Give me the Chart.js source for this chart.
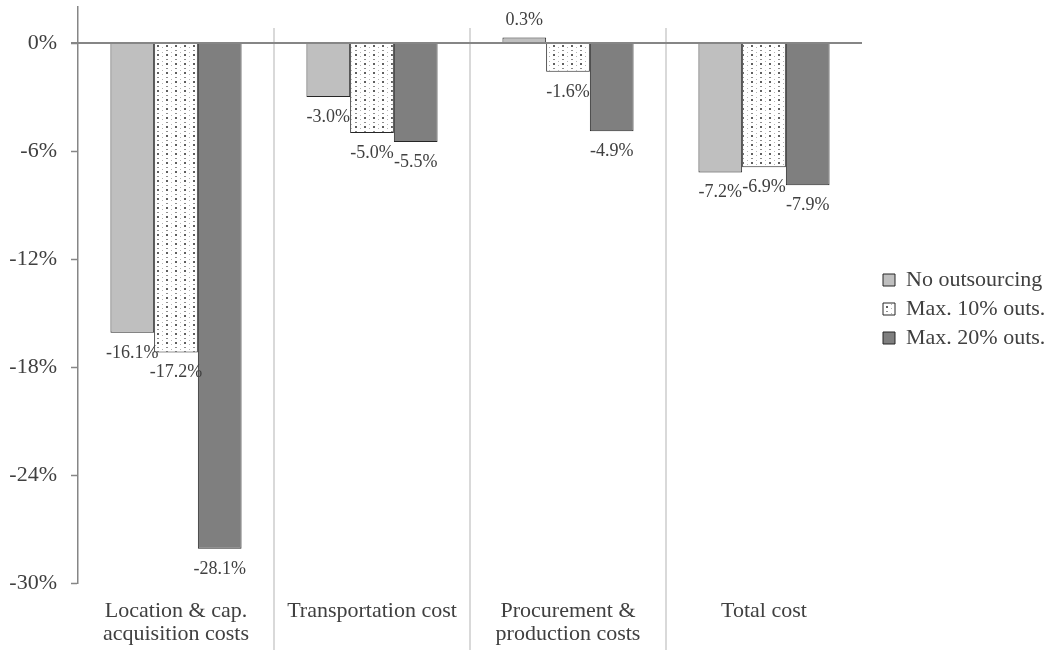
<!DOCTYPE html>
<html><head><meta charset="utf-8">
<script src="https://cdn.jsdelivr.net/npm/chart.js@4"></script>
<style>html,body{margin:0;padding:0;background:#fff;} #wrap{width:1051px;height:653px;position:relative;}</style>
</head><body><div id="wrap"><canvas id="c"></canvas></div>
<script>
const categories = [['Location & cap.','acquisition costs'],'Transportation cost',['Procurement &','production costs'],'Total cost'];
const seriesNames = ['No outsourcing','Max. 10% outs.','Max. 20% outs.'];
const noOutsourcing = [-16.1,-3.0,0.3,-7.2];
const max10 = [-17.2,-5.0,-1.6,-6.9];
const max20 = [-28.1,-5.5,-4.9,-7.9];
const yTicks = [-30,-24,-18,-12,-6,0];
const yMin = -30, yMax = 2;

const FONT = "'Liberation Serif','Times New Roman',serif";
const TEXT = '#404040';
const AXIS = '#868686';

const canvas = document.getElementById('c');
const ctx0 = canvas.getContext('2d');
function dotPattern(){
  const c = document.createElement('canvas'); c.width = 9; c.height = 9;
  const g = c.getContext('2d');
  g.fillStyle = '#ffffff'; g.fillRect(0,0,9,9);
  g.fillStyle = '#5e5e5e'; g.fillRect(4,0,2,2);
  g.fillStyle = '#8e8e8e'; g.fillRect(4,5,2,1);
  g.fillStyle = '#b4b4b4'; g.fillRect(0,2,1,1); g.fillRect(0,7,1,1);
  return ctx0.createPattern(c,'repeat');
}

const overlay = {
  id:'overlay',
  afterLayout(chart){
    const lg = chart.legend;
    if (lg) { lg.top -= 21; lg.bottom -= 21; }
  },
  beforeDatasetsDraw(chart){
    const {ctx, chartArea:a, scales:{x}} = chart;
    ctx.save();
    ctx.strokeStyle = '#d9d9d9'; ctx.lineWidth = 2;
    for(let i=1;i<categories.length;i++){
      const px = Math.round((x.getPixelForTick(i-1)+x.getPixelForTick(i))/2);
      ctx.beginPath(); ctx.moveTo(px, a.top+21); ctx.lineTo(px, chart.height-3); ctx.stroke();
    }
    ctx.restore();
  },
  afterDatasetsDraw(chart){
    const {ctx, chartArea:a, scales:{y}} = chart;
    ctx.save();
    const y0 = y.getPixelForValue(0);
    ctx.strokeStyle = AXIS; ctx.lineWidth = 2;
    ctx.beginPath(); ctx.moveTo(a.left-7, y0); ctx.lineTo(a.right, y0); ctx.stroke();
    ctx.font = "18px " + FONT; ctx.fillStyle = TEXT;
    ctx.textAlign = 'center'; ctx.textBaseline = 'middle';
    chart.data.datasets.forEach((ds,i)=>{
      chart.getDatasetMeta(i).data.forEach((bar,j)=>{
        const v = ds.data[j];
        const t = v.toFixed(1) + '%';
        ctx.fillText(t, bar.x, v < 0 ? bar.y + 20 : bar.y - 17);
      });
    });
    ctx.restore();
  }
};

new Chart(canvas, {
  type:'bar',
  data:{
    labels: categories,
    datasets:[
      {label:seriesNames[0], data:noOutsourcing, backgroundColor:'#bfbfbf', borderColor:'#262626', borderWidth:1},
      {label:seriesNames[1], data:max10, backgroundColor:dotPattern(), borderColor:'#262626', borderWidth:1},
      {label:seriesNames[2], data:max20, backgroundColor:'#7f7f7f', borderColor:'#262626', borderWidth:1}
    ]
  },
  options:{
    responsive:true, maintainAspectRatio:false, animation:false,
    devicePixelRatio:1,
    layout:{padding:{top:7,left:0,right:0,bottom:0}},
    datasets:{bar:{categoryPercentage:0.669, barPercentage:1}},
    plugins:{
      tooltip:{enabled:false},
      legend:{
        position:'right', align:'center', maxWidth:175,
        labels:{font:{family:FONT,size:22}, color:TEXT, boxWidth:12, boxHeight:12, padding:7}
      }
    },
    scales:{
      x:{
        grid:{display:false, drawTicks:false},
        border:{display:false},
        ticks:{font:{family:FONT,size:22,lineHeight:1.05}, color:TEXT, padding:17, maxRotation:0, autoSkip:false},
        afterFit(s){ s.height = 70; s.paddingLeft = 0; s.paddingRight = 0; }
      },
      y:{
        min:yMin, max:yMax,
        grid:{drawOnChartArea:false, drawTicks:true, tickLength:7, tickColor:AXIS, tickWidth:1.5},
        border:{display:true, color:AXIS, width:1.5},
        ticks:{font:{family:FONT,size:22}, color:TEXT, padding:14, callback:v=>v+'%'},
        afterBuildTicks(s){ s.ticks = yTicks.map(v=>({value:v})); },
        afterFit(s){ s.width = 78; s.paddingTop = 0; s.paddingBottom = 0; }
      },
      yR:{
        type:'linear', position:'right', display:true,
        grid:{display:false, drawTicks:false}, border:{display:false}, ticks:{display:false},
        afterFit(s){ s.width = 14; }
      }
    }
  },
  plugins:[overlay]
});
</script></body></html>
